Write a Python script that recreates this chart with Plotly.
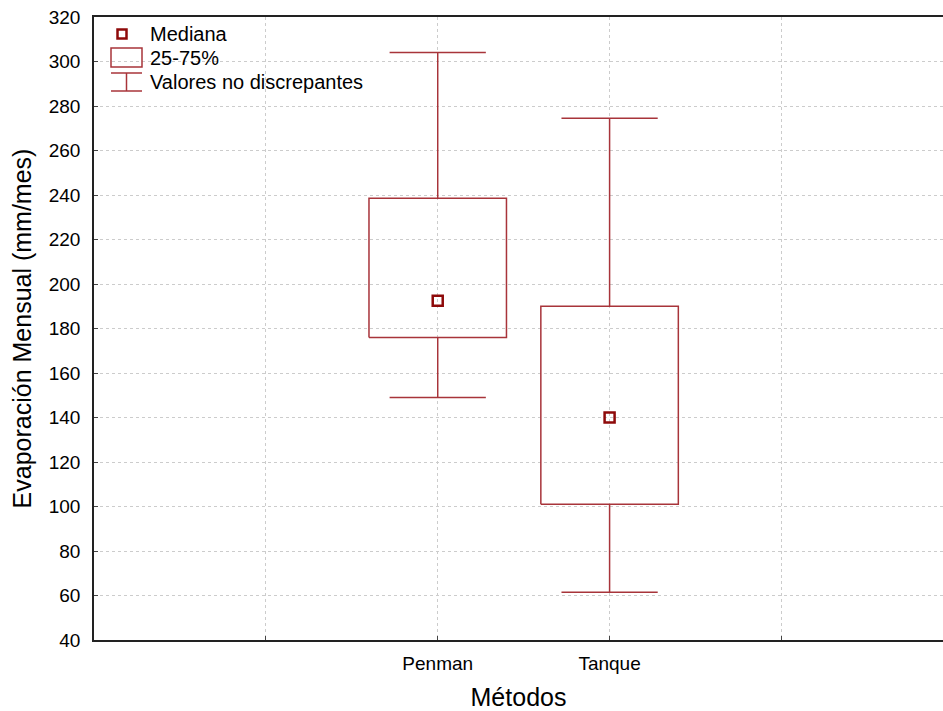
import plotly.graph_objects as go

# Data
categories = ["Penman", "Tanque"]
whisker_low = [149, 61.5]
q1 = [176, 101]
median = [192.5, 140]
q3 = [238.5, 190]
whisker_high = [304, 274.5]

y_ticks = list(range(40, 321, 20))
x_tickvals = [1, 2, 3, 4]
x_ticktext = ["", "Penman", "Tanque", ""]

line_color = "#a8343a"
median_color = "#8e0a0a"
font_family = "Liberation Sans, Arial, sans-serif"

fig = go.Figure()

box_half = 0.4
cap_half = 0.28
for i, name in enumerate(categories):
    p = i + 2
    # box
    fig.add_trace(go.Scatter(
        x=[p - box_half, p + box_half, p + box_half, p - box_half, p - box_half],
        y=[q1[i], q1[i], q3[i], q3[i], q1[i]],
        mode="lines", line=dict(color=line_color, width=1.5),
        showlegend=False, hoverinfo="skip"))
    # whiskers
    fig.add_trace(go.Scatter(
        x=[p, p, None, p - cap_half, p + cap_half, None, p, p, None, p - cap_half, p + cap_half],
        y=[q3[i], whisker_high[i], None, whisker_high[i], whisker_high[i], None,
           q1[i], whisker_low[i], None, whisker_low[i], whisker_low[i]],
        mode="lines", line=dict(color=line_color, width=1.5),
        showlegend=False, hoverinfo="skip"))
    # median
    fig.add_trace(go.Scatter(
        x=[p], y=[median[i]], mode="markers",
        marker=dict(symbol="square-open", size=10, color=median_color,
                    line=dict(width=2.5, color=median_color)),
        showlegend=False, hoverinfo="skip"))

# Manual legend
W, H, L, T = 849, 623, 94, 17
def px(x):
    return (x - L) / W
def py(y):
    return 1 - (y - T) / H

shapes = [
    dict(type="rect", xref="paper", yref="paper", x0=px(117.5), x1=px(126.5), y0=py(38.5), y1=py(29.5),
         line=dict(color=median_color, width=2.5)),
    dict(type="rect", xref="paper", yref="paper", x0=px(111), x1=px(142), y0=py(67), y1=py(48),
         line=dict(color=line_color, width=1.5)),
    dict(type="line", xref="paper", yref="paper", x0=px(111), x1=px(142), y0=py(73), y1=py(73),
         line=dict(color=line_color, width=1.5)),
    dict(type="line", xref="paper", yref="paper", x0=px(111), x1=px(142), y0=py(91), y1=py(91),
         line=dict(color=line_color, width=1.5)),
    dict(type="line", xref="paper", yref="paper", x0=px(126.5), x1=px(126.5), y0=py(73), y1=py(91),
         line=dict(color=line_color, width=1.5)),
]
legend_labels = ["Mediana", "25-75%", "Valores no discrepantes"]
legend_y = [34, 58, 82]
annotations = [
    dict(xref="paper", yref="paper", x=px(148), y=py(yy), text=t, showarrow=False,
         xanchor="left", yanchor="middle", font=dict(size=20, color="#000", family=font_family))
    for t, yy in zip(legend_labels, legend_y)
]

fig.update_layout(
    width=943, height=711,
    margin=dict(l=94, r=0, t=17, b=71),
    paper_bgcolor="white", plot_bgcolor="white",
    font=dict(family=font_family, color="#000"),
    shapes=shapes, annotations=annotations,
    showlegend=False,
)
fig.update_xaxes(
    range=[0, 4.94], tickvals=x_tickvals, ticktext=x_ticktext,
    showgrid=True, gridcolor="#cccccc", griddash="dot", gridwidth=1,
    showline=True, linecolor="#222", linewidth=1.5, mirror=True,
    ticks="inside", ticklen=4, tickcolor="#444",
    tickfont=dict(size=19), zeroline=False, ticklabelstandoff=5,
    title=dict(text="Métodos", font=dict(size=25), standoff=18),
)
fig.update_yaxes(
    range=[40, 320], tickvals=y_ticks,
    showgrid=True, gridcolor="#cccccc", griddash="dot", gridwidth=1,
    showline=True, linecolor="#222", linewidth=1.5,
    ticks="inside", ticklen=4, tickcolor="#444",
    tickfont=dict(size=19), zeroline=False, ticklabelstandoff=8,
    title=dict(text="Evaporación Mensual (mm/mes)", font=dict(size=25), standoff=10),
)

fig.write_html("out.html")
